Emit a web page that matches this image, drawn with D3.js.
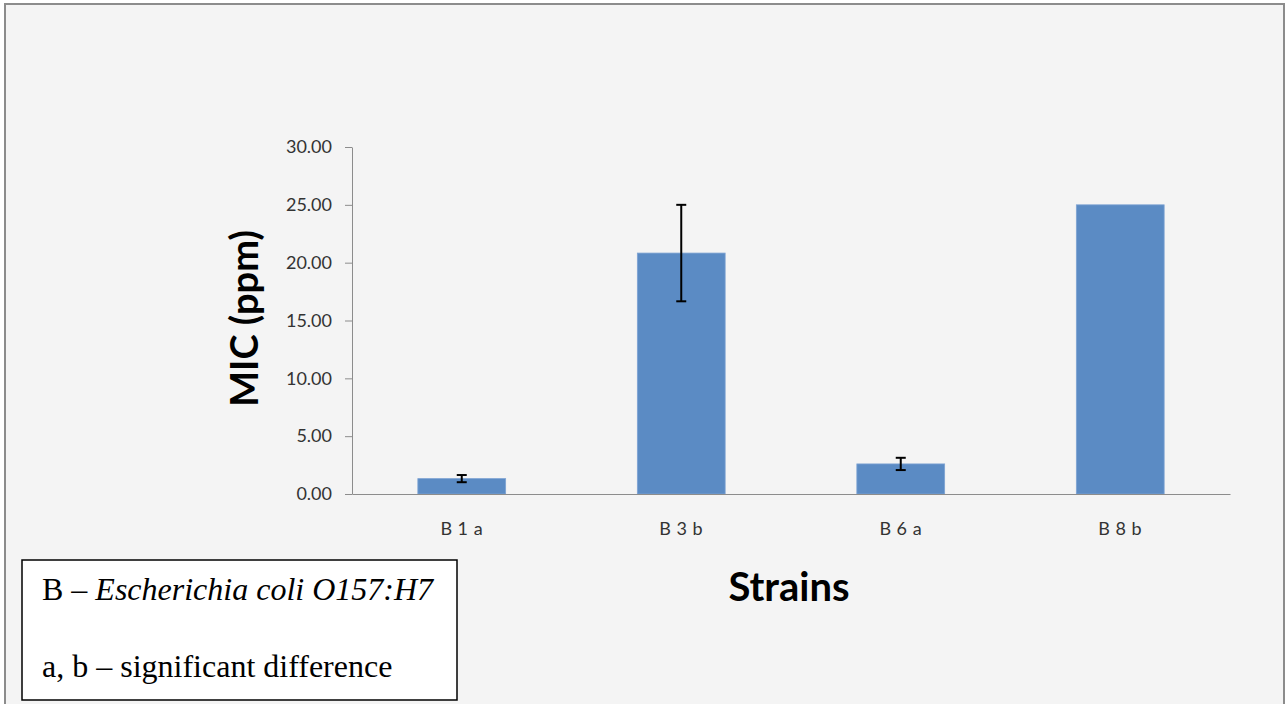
<!DOCTYPE html>
<html>
<head>
<meta charset="utf-8">
<script src="https://cdn.jsdelivr.net/npm/d3@7"></script>
<style>
  body { margin: 0; background: #ffffff; }
</style>
</head>
<body>
<script>

// Chart data
var strains = ["B 1 a", "B 3 b", "B 6 a", "B 8 b"];
var micValues = [1.33, 20.83, 2.60, 25.00];
var micErrors = [0.31, 4.17, 0.53, 0];
var yTicks = [0, 5, 10, 15, 20, 25, 30];

drawChart();

function drawChart(){

  // Width and height
  var w = 1285;
  var h = 704;

  var svg = d3.select("body")
              .append("svg")
              .attr("width", w)
              .attr("height", h);

  // Chart area background with grey frame
  svg.append("rect")
     .attr("x", 5)
     .attr("y", 4)
     .attr("width", 1279)
     .attr("height", 720)
     .attr("fill", "#f4f4f4")
     .attr("stroke", "#8c8c8c")
     .attr("stroke-width", 2);

  // Plot area
  var margin = {top: 147, left: 352, right: 55, bottom: 210};
  var plotWidth = w - margin.left - margin.right;
  var plotHeight = h - margin.top - margin.bottom;

  var graph = svg.append("g")
                 .attr("transform", `translate(${margin.left}, ${margin.top})`);

  // Scales
  var yScale = d3.scaleLinear()
                 .domain([0, 30])
                 .range([plotHeight, 0]);

  var xScale = d3.scaleBand()
                 .domain(strains)
                 .range([0, plotWidth])
                 .paddingInner(0.6)
                 .paddingOuter(0.3);

  // Bars
  var data = strains.map((s, i) => ({name: s, value: micValues[i], err: micErrors[i]}));

  graph.selectAll("rect.bar")
       .data(data)
       .enter()
       .append("rect")
       .attr("class", "bar")
       .attr("x", d => xScale(d.name))
       .attr("y", d => yScale(d.value))
       .attr("width", xScale.bandwidth())
       .attr("height", d => plotHeight - yScale(d.value))
       .attr("fill", "#5b8bc4")
       .attr("stroke", "#7ea3d3")
       .attr("stroke-width", 0.8);

  // Error bars
  var errs = graph.selectAll("g.err")
                  .data(data.filter(d => d.err > 0))
                  .enter()
                  .append("g")
                  .attr("class", "err")
                  .attr("stroke", "#000")
                  .attr("stroke-width", 2);

  var cx = d => xScale(d.name) + xScale.bandwidth() / 2;

  errs.append("line")
      .attr("x1", cx).attr("x2", cx)
      .attr("y1", d => yScale(d.value + d.err))
      .attr("y2", d => yScale(d.value - d.err));

  errs.append("line")
      .attr("x1", d => cx(d) - 5).attr("x2", d => cx(d) + 5)
      .attr("y1", d => yScale(d.value + d.err))
      .attr("y2", d => yScale(d.value + d.err));

  errs.append("line")
      .attr("x1", d => cx(d) - 5).attr("x2", d => cx(d) + 5)
      .attr("y1", d => yScale(d.value - d.err))
      .attr("y2", d => yScale(d.value - d.err));

  // Axes
  var yAxis = graph.append("g")
                   .call(d3.axisLeft(yScale)
                           .tickValues(yTicks)
                           .tickFormat(d3.format(".2f"))
                           .tickSize(7)
                           .tickSizeOuter(0)
                           .tickPadding(13));

  var xAxis = graph.append("g")
                   .attr("transform", `translate(0, ${plotHeight})`)
                   .call(d3.axisBottom(xScale)
                           .tickSize(0)
                           .tickSizeOuter(0)
                           .tickPadding(41));

  [xAxis, yAxis].forEach(a => {
    a.selectAll("path, line").attr("stroke", "#8c8c8c");
    a.selectAll("text")
     .attr("fill", "#333")
     .style("font-family", "Lato, sans-serif")
     .style("font-size", "18px");
  });

  xAxis.selectAll("text")
       .style("font-size", "18px")
       .style("letter-spacing", "0.5px")
       .attr("dy", "0");

  // Axis titles
  svg.append("text")
     .attr("transform", `translate(258, ${margin.top + plotHeight / 2 - 2}) rotate(-90)`)
     .attr("text-anchor", "middle")
     .style("font-family", "Lato, sans-serif")
     .style("font-weight", "bold")
     .style("font-size", "38px")
     .text("MIC (ppm)");

  svg.append("text")
     .attr("x", 789)
     .attr("y", 601)
     .attr("text-anchor", "middle")
     .style("font-family", "Lato, sans-serif")
     .style("font-weight", "bold")
     .style("font-size", "40px")
     .text("Strains");

  // Note box
  svg.append("rect")
     .attr("x", 22)
     .attr("y", 560)
     .attr("width", 435)
     .attr("height", 140)
     .attr("fill", "#ffffff")
     .attr("stroke", "#000")
     .attr("stroke-width", 1.5);

  var note1 = svg.append("text")
                 .attr("x", 42)
                 .attr("y", 600)
                 .style("font-family", "'Liberation Serif', 'Times New Roman', serif")
                 .style("font-size", "32px");
  note1.append("tspan").text("B \u2013 ");
  note1.append("tspan").style("font-style", "italic").text("Escherichia coli O157:H7");

  svg.append("text")
     .attr("x", 42)
     .attr("y", 677)
     .style("font-family", "'Liberation Serif', 'Times New Roman', serif")
     .style("font-size", "32px")
     .text("a, b \u2013 significant difference");

};

</script>
</body>
</html>
